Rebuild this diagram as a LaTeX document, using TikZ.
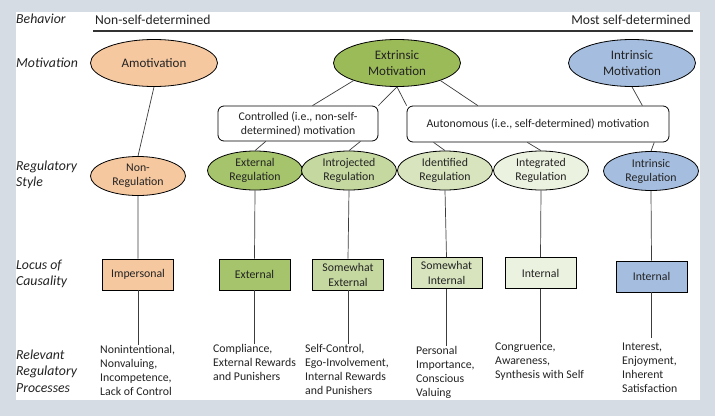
\documentclass[tikz,border=0pt]{standalone}
\usepackage{fontspec}
\setmainfont{Carlito}
\usetikzlibrary{shapes.geometric,calc}

\definecolor{bgpanel}{RGB}{213,220,228}
\definecolor{amotfill}{RGB}{246,200,160}
\definecolor{extrfill}{RGB}{155,187,89}
\definecolor{extregfill}{RGB}{165,196,108}
\definecolor{introjfill}{RGB}{197,216,160}
\definecolor{identfill}{RGB}{216,228,190}
\definecolor{integfill}{RGB}{236,242,224}
\definecolor{intrfill}{RGB}{165,189,222}
\definecolor{linkgray}{RGB}{60,60,60}
\definecolor{inkgray}{RGB}{35,35,35}

\begin{document}
\begin{tikzpicture}[x=1pt, y=-1pt, text=inkgray,
  motiv/.style={ellipse, draw, line width=0.8pt, minimum width=127pt, minimum height=47pt,
    inner sep=0pt, align=center, font=\fontsize{13}{16}\selectfont},
  regstyle/.style={ellipse, draw, line width=0.8pt, minimum width=95pt, minimum height=39pt,
    inner sep=0pt, align=center, font=\fontsize{11.8}{14}\selectfont},
  locus/.style={rectangle, draw, line width=0.8pt, minimum width=71pt, minimum height=31pt,
    inner sep=0pt, align=center, font=\fontsize{11.8}{15}\selectfont},
  group/.style={rectangle, rounded corners=6pt, draw, line width=0.8pt, fill=white,
    inner sep=0pt, align=center, font=\fontsize{11.8}{14}\selectfont},
  rowlabel/.style={anchor=west, align=left, inner sep=0pt, font=\itshape\fontsize{13.8}{16.5}\selectfont},
  process/.style={anchor=north west, align=left, inner sep=0pt, font=\fontsize{11.8}{14}\selectfont},
  link/.style={draw=linkgray, line width=0.7pt}]

  % panel
  \fill[bgpanel] (0,0) rectangle (715,416);
  \fill[white] (16,12) rectangle (700,400);
  \useasboundingbox (0,0) rectangle (715,416);

  % row labels
  \node[rowlabel] (lbehav) at (16,19)  {Behavior};
  \node[rowlabel] (lmotiv) at (16,63)  {Motivation};
  \node[rowlabel] (lstyle) at (16,175) {Regulatory\\Style};
  \node[rowlabel] (llocus) at (16,274) {Locus of\\Causality};
  \node[rowlabel] (lproc)  at (16,371) {Relevant\\Regulatory\\Processes};

  % behaviour scale
  \node[anchor=base west, inner sep=0pt, font=\fontsize{13.6}{15}\selectfont] (leastsd) at (95,24) {Non-self-determined};
  \node[anchor=base east, inner sep=0pt, font=\fontsize{13.6}{15}\selectfont] (mostsd) at (691,24) {Most self-determined};
  \draw[line width=1.6pt, draw=black!80]
    ([shift={(-2,7)}]leastsd.base west) -- ([shift={(2,7)}]mostsd.base east);

  % motivation
  \node[motiv, fill=amotfill] (amot) at (154,63) {Amotivation};
  \node[motiv, fill=extrfill] (extr) at (397,63) {Extrinsic\\Motivation};
  \node[motiv, fill=intrfill] (intr) at (632,63) {Intrinsic\\Motivation};

  \node[group, minimum width=160pt, minimum height=35pt] (ctrl) at (298,123.5)
    {Controlled (i.e., non-self-\\determined) motivation};
  \node[group, minimum width=262pt, minimum height=36pt] (auto) at (538,124)
    {Autonomous (i.e., self-determined) motivation};

  % regulatory style
  \node[regstyle, fill=amotfill]   (nonreg)  at (138,176)   {Non-\\Regulation};
  \node[regstyle, fill=extregfill] (extreg)  at (255,170.5) {External\\Regulation};
  \node[regstyle, fill=introjfill] (introj)  at (349,170.5) {Introjected\\Regulation};
  \node[regstyle, fill=identfill]  (ident)   at (445,170.5) {Identified\\Regulation};
  \node[regstyle, fill=integfill]  (integ)   at (541,170.5) {Integrated\\Regulation};
  \node[regstyle, fill=intrfill]   (intrreg) at (651,171)   {Intrinsic\\Regulation};

  % locus of causality
  \node[locus, fill=amotfill]   (imp)    at (138,274.5)   {Impersonal};
  \node[locus, fill=extregfill] (extloc) at (254.5,274.5) {External};
  \node[locus, fill=introjfill] (swext)  at (348,274.5)   {Somewhat\\External};
  \node[locus, fill=identfill]  (swint)  at (446.5,273)   {Somewhat\\Internal};
  \node[locus, fill=integfill]  (intloc) at (540.5,273)   {Internal};
  \node[locus, fill=intrfill]   (intint) at (651.5,276.5) {Internal};

  % regulatory processes
  \node[process] (pnon)   at (100,345) {Nonintentional,\\Nonvaluing,\\Incompetence,\\Lack of Control};
  \node[process] (pcomp)  at (213,344) {Compliance,\\External Rewards\\and Punishers};
  \node[process] (pself)  at (305,344) {Self-Control,\\Ego-Involvement,\\Internal Rewards\\and Punishers};
  \node[process] (ppers)  at (416,346) {Personal\\Importance,\\Conscious\\Valuing};
  \node[process] (pcong)  at (495,343) {Congruence,\\Awareness,\\Synthesis with Self};
  \node[process] (pinter) at (622,343) {Interest,\\Enjoyment,\\Inherent\\Satisfaction};

  % connectors
  \path[link]
    (amot.south) -- (nonreg.north)
    (extr.-158)  -- (ctrl.51)
    (extr.south) -- (ctrl.north east)
    (extr.south) -- (auto.north west)
    (extr.-22)   -- (auto.163.6)
    (intr.south) -- (auto.10.2)
    (ctrl.209.4) -- (extreg.north)
    (ctrl.-16.5) -- (introj.north)
    (auto.190.4) -- (ident.north)
    (auto.240.9) -- (integ.north)
    (auto.-9.1)  -- (intrreg.north) ;

  \path[link]
    (nonreg.south)  -- (imp.north)
    (extreg.south)  -- (extloc.north)
    (introj.south)  -- (swext.north)
    (ident.south)   -- (swint.north)
    (integ.south)   -- (intloc.north)
    (intrreg.south) -- (intint.north) ;

  \path[link, shorten >=5pt]
    (imp.south)    -- (imp.south |- pnon.north)
    (extloc.south) -- (extloc.south |- pcomp.north)
    (swext.south)  -- (swext.south |- pself.north)
    (swint.south)  -- (swint.south |- ppers.north)
    (intloc.south) -- (intloc.south |- pcong.north)
    (intint.south) -- (intint.south |- pinter.north) ;

\end{tikzpicture}
\end{document}
